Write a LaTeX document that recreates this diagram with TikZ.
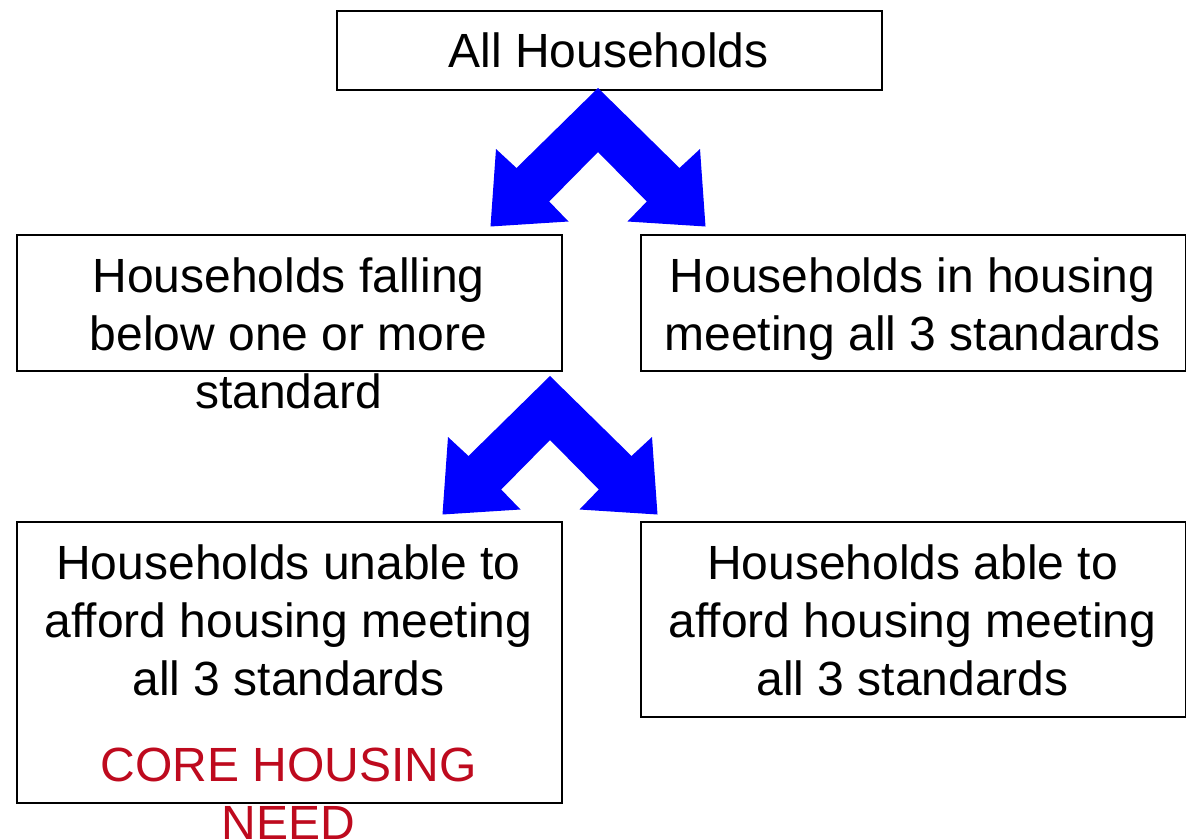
\documentclass[tikz,border=0pt]{standalone}
\usepackage{fontspec}
\setmainfont{Liberation Sans}
\definecolor{arrowblue}{RGB}{0,0,255}
\definecolor{needred}{RGB}{190,10,30}
\begin{document}
\begin{tikzpicture}[x=1bp,y=-1bp,
  box/.style={draw=black,line width=2bp,inner sep=0pt,anchor=north west},
  txt/.style={anchor=base,inner sep=0pt,font=\fontsize{48bp}{58bp}\selectfont},
  redtxt/.style={txt,text=needred},
  splitarrow/.pic={
    \fill[arrowblue] (0,0) -- (81.5,80) -- (102,61) -- (107.5,138.5) -- (29.5,133.5)
      -- (48.8,113.5) -- (0,64) -- (-48.8,113.5) -- (-29.5,133.5) -- (-107.5,138.5)
      -- (-102,61) -- (-81.5,80) -- cycle;
  }]
\useasboundingbox (0,0) rectangle (1186,840);
\fill[white] (0,0) rectangle (1186,840);

% boxes
\node[box,minimum width=545bp,minimum height=79bp] (top) at (336,10) {};
\node[box,minimum width=545bp,minimum height=136bp] (ml) at (16,234) {};
\node[box,minimum width=545bp,minimum height=136bp] (mr) at (640,234) {};
\node[box,minimum width=545bp,minimum height=281bp] (bl) at (16,521) {};
\node[box,minimum width=545bp,minimum height=195bp] (br) at (640,521) {};

% arrows
\pic at (598,88) {splitarrow};
\pic at (550,376) {splitarrow};

% texts
\node[txt] (t1) at (608.5,67) {All Households};

\node[txt] (ml1) at (288.5,292) {Households falling};
\node[txt] (ml2) at (288.5,350) {below one or more};
\node[txt] (ml3) at (288.5,408) {standard};

\node[txt] (mr1) at (912.5,292) {Households in housing};
\node[txt] (mr2) at (912.5,350) {meeting all 3 standards};

\node[txt] (bl1) at (288.5,579) {Households unable to};
\node[txt] (bl2) at (288.5,637) {afford housing meeting};
\node[txt] (bl3) at (288.5,695) {all 3 standards};
\node[redtxt] (bl4) at (288.5,781) {CORE HOUSING};
\node[redtxt] (bl5) at (288.5,839) {NEED};

\node[txt] (br1) at (912.5,579) {Households able to};
\node[txt] (br2) at (912.5,637) {afford housing meeting};
\node[txt] (br3) at (912.5,695) {all 3 standards};
\end{tikzpicture}
\end{document}
